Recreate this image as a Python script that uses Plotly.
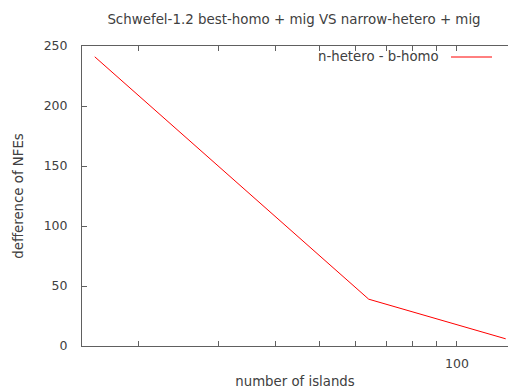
import plotly.graph_objects as go
import math

islands = [16, 64, 128]
diff_nfes = [241, 39, 6]
series_name = "n-hetero - b-homo"
x_tickvals = [20, 30, 40, 50, 60, 70, 80, 90, 100]
x_ticktext = ["", "", "", "", "", "", "", "", "100"]
y_tickvals = [0, 50, 100, 150, 200, 250]

FONT = "DejaVu Sans"
TXT = "#404040"
AX = "#606060"

fig = go.Figure()
fig.add_trace(go.Scatter(x=islands, y=diff_nfes, mode="lines",
                         line=dict(color="#ff0000", width=1),
                         name=series_name, showlegend=False))

W, H = 509, 389
L, R, T, B = 82, 1, 46, 43
fig.update_layout(
    width=W, height=H,
    margin=dict(l=L, r=R, t=T, b=B),
    plot_bgcolor="white", paper_bgcolor="white",
    font=dict(family=FONT, size=13, color=TXT),
    title=dict(text="Schwefel-1.2 best-homo + mig VS narrow-hetero + mig",
               x=294 / W, xanchor="center", y=1 - 19 / H, yanchor="middle",
               font=dict(size=13.4, color=TXT)),
    xaxis=dict(type="log", range=[math.log10(15), math.log10(129.5)],
               tickvals=x_tickvals, ticktext=x_ticktext,
               ticks="inside", ticklen=5, tickcolor=AX,
               showline=True, linecolor=AX, linewidth=1, mirror="ticks",
               showgrid=False, zeroline=False, ticklabelstandoff=6,
               tickfont=dict(size=12.5, color=TXT),
               title=dict(text="number of islands", font=dict(size=13.3, color=TXT), standoff=8)),
    yaxis=dict(range=[0, 250], tickvals=y_tickvals,
               ticks="inside", ticklen=5, tickcolor=AX,
               showline=True, linecolor=AX, linewidth=1, mirror=False,
               showgrid=False, zeroline=False, ticklabelstandoff=11,
               tickfont=dict(size=12.5, color=TXT),
               title=dict(text="defference of NFEs", font=dict(size=13.3, color=TXT), standoff=16)),
)

# legend (gnuplot style: text then sample line on the right)
fig.add_annotation(text=series_name, xref="paper", yref="paper",
                   x=(441 - L) / (W - L - R), y=1 - (57 - T) / (H - T - B),
                   xanchor="right", yanchor="middle", showarrow=False,
                   font=dict(size=13.3, color=TXT))
fig.add_shape(type="line", xref="paper", yref="paper",
              x0=(451 - L) / (W - L - R), x1=(492 - L) / (W - L - R),
              y0=1 - (57 - T) / (H - T - B), y1=1 - (57 - T) / (H - T - B),
              line=dict(color="#ff0000", width=1))

fig.write_html("out.html")
